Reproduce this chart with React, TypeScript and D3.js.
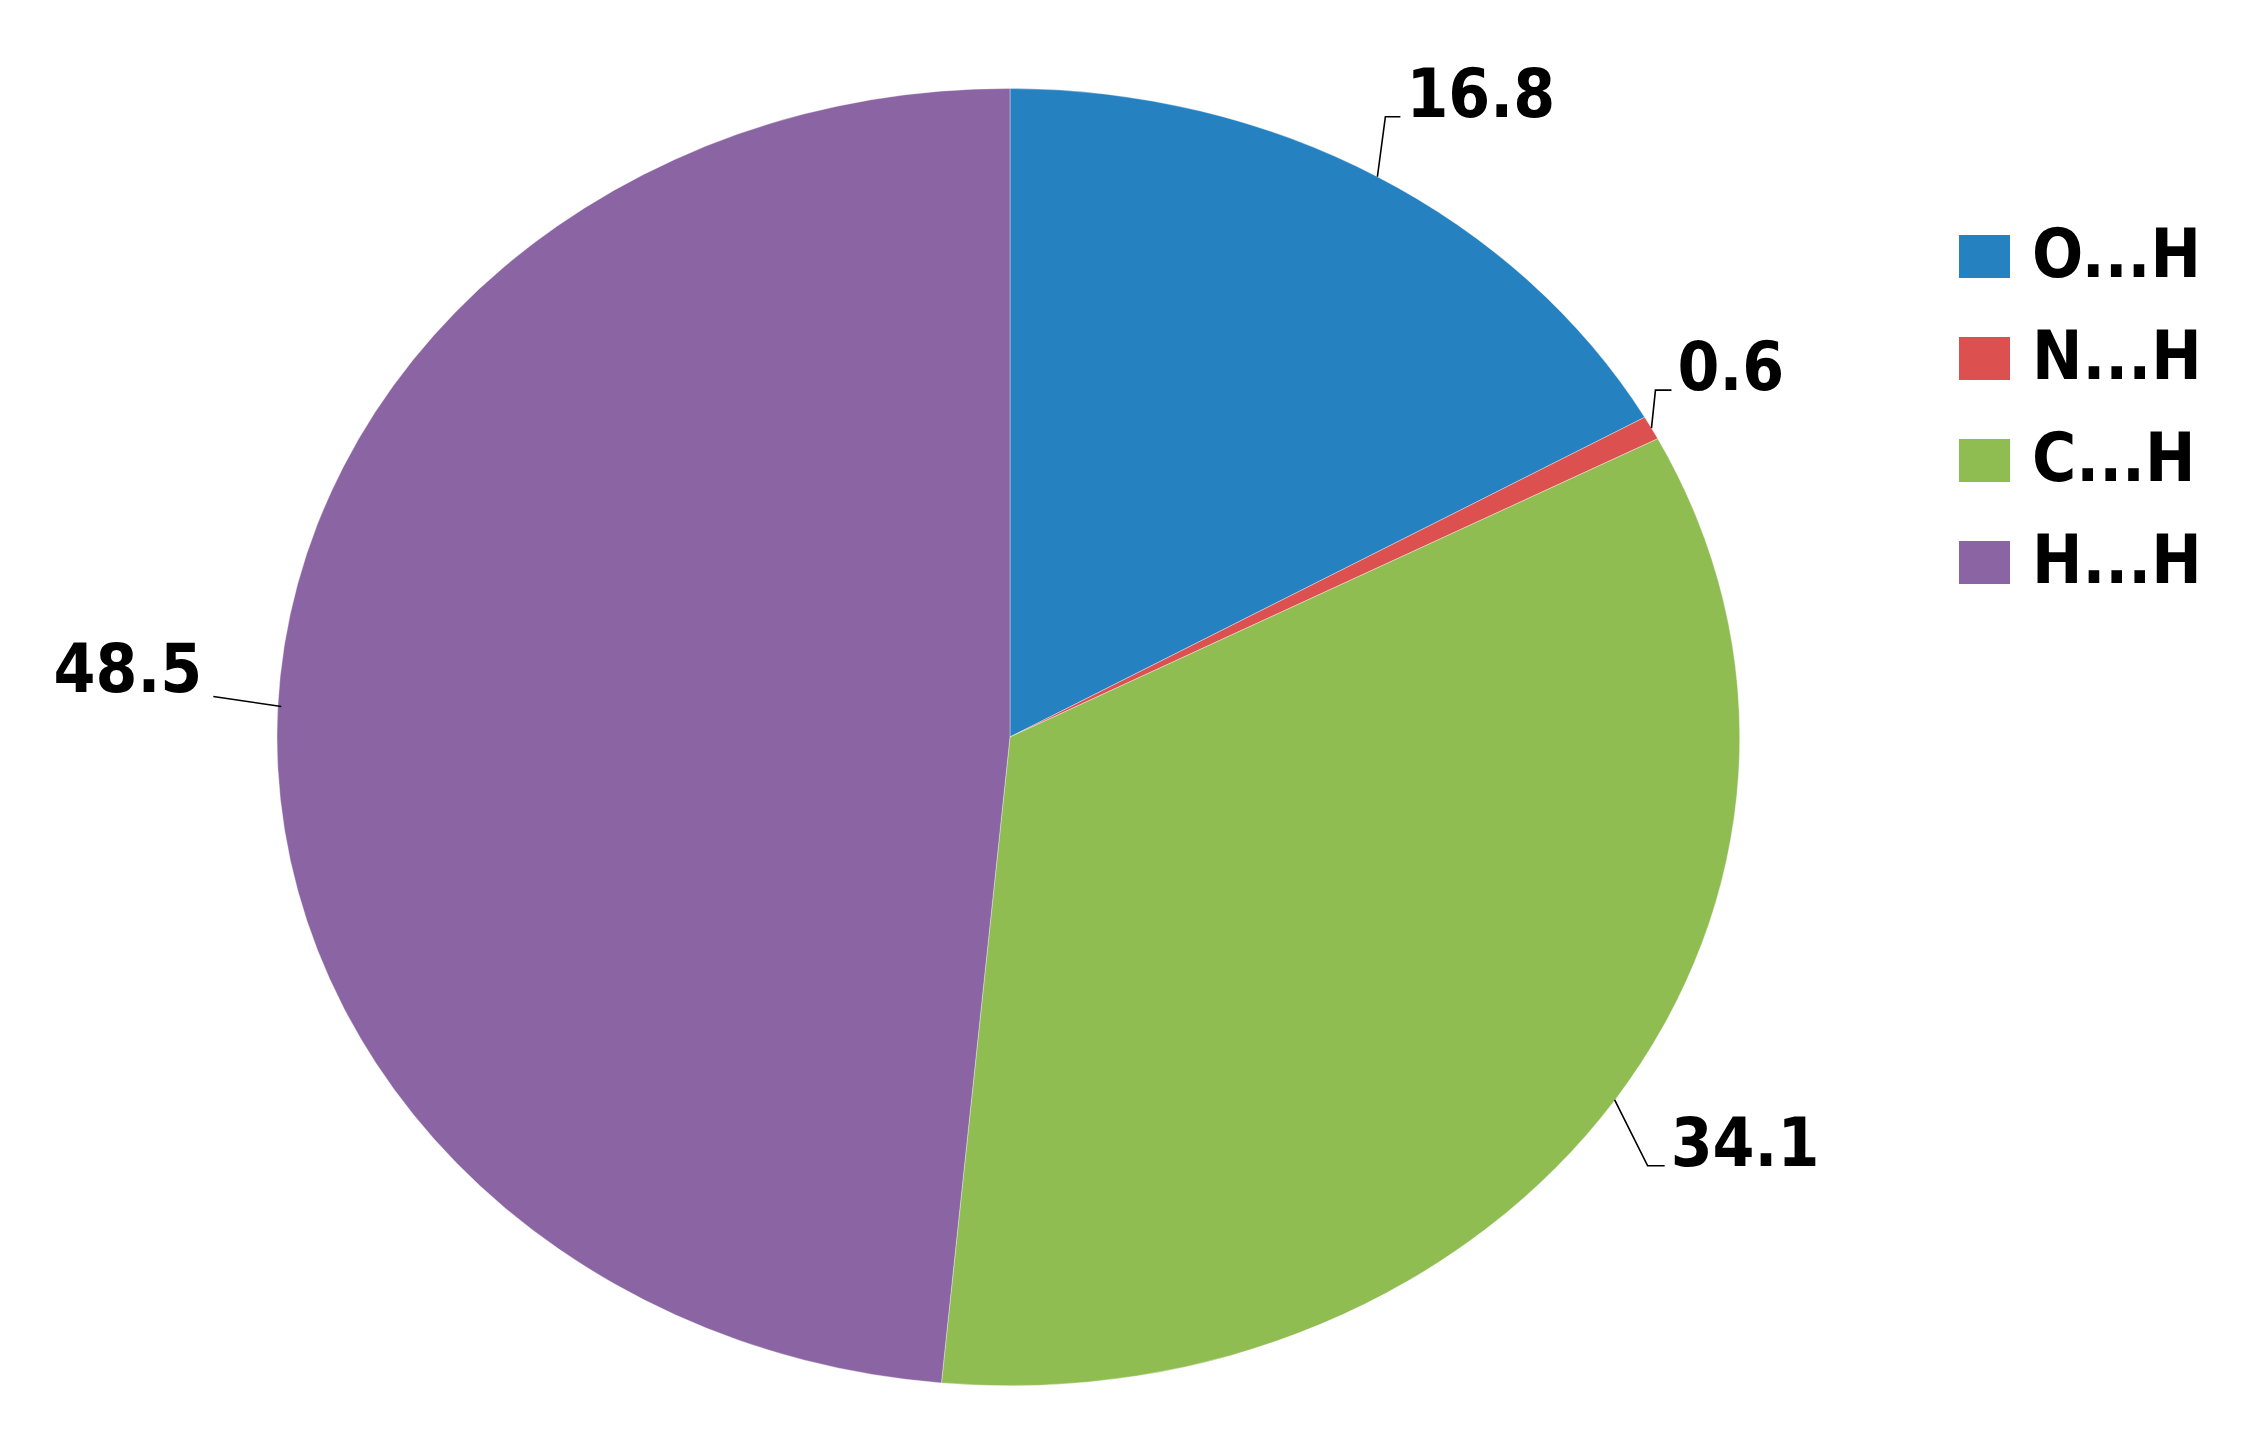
import React from "react";
import * as d3 from "d3";

const categories = ["O...H", "N...H", "C...H", "H...H"];
const values = [16.8, 0.6, 34.1, 48.5];
const valueLabels = ["16.8", "0.6", "34.1", "48.5"];
const colors = ["#2581c0", "#dc5050", "#8fbd51", "#8b65a3"];

const W = 2247;
const H = 1446;
const cx = 1010;
const cy = 737;
const rx = 729.5;
const ry = 648.5;
const FONT = "'DejaVu Sans Condensed', 'DejaVu Sans', sans-serif";
const FS = 67;

// leader line layout per slice: bend offset from anchor, horizontal tail length, text side
const leaderLayout = [
  { bx: 8, by: -60, hx: 15, anchor: "start", ty: 0 },
  { bx: 4, by: -38, hx: 16, anchor: "start", ty: 0 },
  { bx: 33, by: 66, hx: 17, anchor: "start", ty: 0 },
  { bx: -68, by: -10, hx: 0, anchor: "end", ty: -4 },
];

export default function App() {
  const pie = d3.pie<number>().sort(null).value((d) => d)(values);
  const arc = d3.arc<d3.PieArcDatum<number>>().innerRadius(0).outerRadius(1);

  return (
    <svg width={W} height={H} style={{ display: "block", position: "absolute", left: 0, top: 0, background: "#fff" }}>
      <g transform={`translate(${cx},${cy}) scale(${rx},${ry})`}>
        {pie.map((p, i) => (
          <path
            key={i}
            d={arc(p) || ""}
            fill={colors[i]}
            stroke="#ffffff"
            strokeOpacity={0.35}
            strokeWidth={1}
            vectorEffect="non-scaling-stroke"
          />
        ))}
      </g>
      {pie.map((p, i) => {
        const mid = (p.startAngle + p.endAngle) / 2;
        const ax = cx + rx * Math.sin(mid);
        const ay = cy - ry * Math.cos(mid);
        const L = leaderLayout[i];
        const bx = ax + L.bx;
        const by = ay + L.by;
        const isLeft = L.anchor === "end";
        const hx = isLeft ? bx : bx + L.hx;
        const tx = isLeft ? bx - 11 : hx + 6;
        return (
          <g key={i}>
            <polyline
              points={`${ax},${ay} ${bx},${by} ${hx},${by}`}
              fill="none"
              stroke="#000"
              strokeWidth={1.6}
            />
            <text
              x={tx}
              y={by + L.ty}
              textAnchor={L.anchor as any}
              fontFamily={FONT}
              fontWeight="bold"
              fontSize={FS}
              fill="#000"
            >
              {valueLabels[i]}
            </text>
          </g>
        );
      })}
      <g>
        {categories.map((c, i) => (
          <g key={c} transform={`translate(1959, ${235 + i * 102})`}>
            <rect x={0} y={0} width={51} height={43} fill={colors[i]} />
            <text x={73} y={42} fontFamily={FONT} fontWeight="bold" fontSize={FS} fill="#000">
              {c}
            </text>
          </g>
        ))}
      </g>
    </svg>
  );
}
